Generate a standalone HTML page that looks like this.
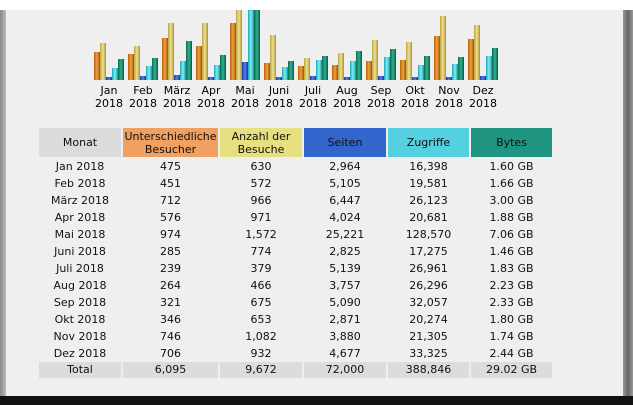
<!DOCTYPE html>
<html><head><meta charset="utf-8"><style>
body{margin:0;width:633px;height:405px;overflow:hidden;background:#fff;font-family:"DejaVu Sans","Liberation Sans",sans-serif;}
#frame{position:absolute;left:0;top:0;width:633px;height:405px;}
#bg{position:absolute;left:6px;top:10px;width:617px;height:386px;background:#efefef;}
#lb{position:absolute;left:0;top:10px;width:6px;height:390px;background:linear-gradient(90deg,#888,#bbb);}
#rb{position:absolute;left:623px;top:10px;width:10px;height:390px;background:linear-gradient(90deg,#999,#666,#999);}
#bb{position:absolute;left:0;top:396px;width:633px;height:9px;background:#111;}
#top{position:absolute;left:0;top:0;width:633px;height:10px;background:#fff;z-index:5;}
svg{position:absolute;left:0;top:0;}
.lab{position:absolute;font-size:11px;color:#000;text-align:center;width:40px;line-height:13px;}
table{position:absolute;left:37px;top:128px;border-collapse:separate;border-spacing:2px 0;font-size:11px;color:#111;}
td,th{text-align:center;padding:0;height:17px;line-height:17px;font-weight:normal;}
th{height:29px;line-height:13px;}
tr.h2 td{height:1px;line-height:1px;font-size:1px;}
tr.t td{background:#dcdcdc;height:16px;line-height:16px;}
</style></head><body>
<div id="frame">
<div id="bg"></div><div id="lb"></div><div id="rb"></div><div id="bb"></div><div id="top"></div>
<svg width="633" height="405">
<defs>
<linearGradient id="o"><stop offset="0" stop-color="#b8600c"/><stop offset=".5" stop-color="#f0a040"/><stop offset="1" stop-color="#a05008"/></linearGradient>
<linearGradient id="y"><stop offset="0" stop-color="#b8a840"/><stop offset=".5" stop-color="#f0e090"/><stop offset="1" stop-color="#a89030"/></linearGradient>
<linearGradient id="b"><stop offset="0" stop-color="#1a3cb0"/><stop offset=".5" stop-color="#5080f0"/><stop offset="1" stop-color="#1a3090"/></linearGradient>
<linearGradient id="c"><stop offset="0" stop-color="#20a8b8"/><stop offset=".5" stop-color="#80f0f8"/><stop offset="1" stop-color="#1890a0"/></linearGradient>
<linearGradient id="g"><stop offset="0" stop-color="#0a6a50"/><stop offset=".5" stop-color="#30b090"/><stop offset="1" stop-color="#045a40"/></linearGradient>
</defs>
<g id="bars"></g>
</svg>
<div class="lab" style="left:89px;top:84px">Jan<br>2018</div>
<div class="lab" style="left:123px;top:84px">Feb<br>2018</div>
<div class="lab" style="left:157px;top:84px">März<br>2018</div>
<div class="lab" style="left:191px;top:84px">Apr<br>2018</div>
<div class="lab" style="left:225px;top:84px">Mai<br>2018</div>
<div class="lab" style="left:259px;top:84px">Juni<br>2018</div>
<div class="lab" style="left:293px;top:84px">Juli<br>2018</div>
<div class="lab" style="left:327px;top:84px">Aug<br>2018</div>
<div class="lab" style="left:361px;top:84px">Sep<br>2018</div>
<div class="lab" style="left:395px;top:84px">Okt<br>2018</div>
<div class="lab" style="left:429px;top:84px">Nov<br>2018</div>
<div class="lab" style="left:463px;top:84px">Dez<br>2018</div>
<table>
<tr><th style="width:82px;background:#dcdcdc">Monat</th><th style="width:95px;background:#f0a060">Unterschiedliche<br>Besucher</th><th style="width:82px;background:#e6e080">Anzahl der<br>Besuche</th><th style="width:82px;background:#3366cc">Seiten</th><th style="width:81px;background:#55d0e0">Zugriffe</th><th style="width:81px;background:#209682">Bytes</th></tr>
<tr class="h2"><td></td><td></td><td></td><td></td><td></td><td></td></tr>
<tr><td>Jan 2018</td><td>475</td><td>630</td><td>2,964</td><td>16,398</td><td>1.60 GB</td></tr>
<tr><td>Feb 2018</td><td>451</td><td>572</td><td>5,105</td><td>19,581</td><td>1.66 GB</td></tr>
<tr><td>März 2018</td><td>712</td><td>966</td><td>6,447</td><td>26,123</td><td>3.00 GB</td></tr>
<tr><td>Apr 2018</td><td>576</td><td>971</td><td>4,024</td><td>20,681</td><td>1.88 GB</td></tr>
<tr><td>Mai 2018</td><td>974</td><td>1,572</td><td>25,221</td><td>128,570</td><td>7.06 GB</td></tr>
<tr><td>Juni 2018</td><td>285</td><td>774</td><td>2,825</td><td>17,275</td><td>1.46 GB</td></tr>
<tr><td>Juli 2018</td><td>239</td><td>379</td><td>5,139</td><td>26,961</td><td>1.83 GB</td></tr>
<tr><td>Aug 2018</td><td>264</td><td>466</td><td>3,757</td><td>26,296</td><td>2.23 GB</td></tr>
<tr><td>Sep 2018</td><td>321</td><td>675</td><td>5,090</td><td>32,057</td><td>2.33 GB</td></tr>
<tr><td>Okt 2018</td><td>346</td><td>653</td><td>2,871</td><td>20,274</td><td>1.80 GB</td></tr>
<tr><td>Nov 2018</td><td>746</td><td>1,082</td><td>3,880</td><td>21,305</td><td>1.74 GB</td></tr>
<tr><td>Dez 2018</td><td>706</td><td>932</td><td>4,677</td><td>33,325</td><td>2.44 GB</td></tr>
<tr class="t"><td>Total</td><td>6,095</td><td>9,672</td><td>72,000</td><td>388,846</td><td>29.02 GB</td></tr>
</table>
</div>
<script>
var d=[[28,37,3,12,21],[26,34,4,14,22],[42,57,5,19,39],[34,57,3,15,25],[57,92,18,94,92],[17,45,3,13,19],[14,22,4,20,24],[15,27,3,19,29],[19,40,4,23,31],[20,38,3,15,24],[44,64,3,16,23],[41,55,4,24,32]];
var ids=['o','y','b','c','g'],s='';
d.forEach(function(r,i){r.forEach(function(h,j){s+='<rect x="'+(94+i*34+j*6)+'" y="'+(80-h)+'" width="6" height="'+h+'" fill="url(#'+ids[j]+')"/>';});});
document.getElementById('bars').innerHTML=s;
</script>
</body></html>
